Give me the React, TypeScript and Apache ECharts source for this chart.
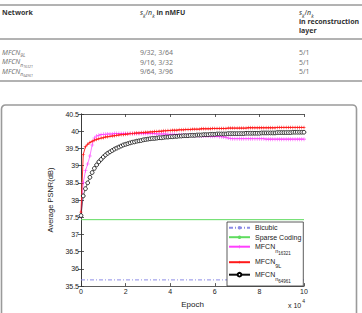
import React, { useEffect, useRef } from 'react';
import * as echarts from 'echarts';

// ---------- data ----------
const epochStep = 0.1; // x 10^4 epochs between samples
const red9L = [
  37.65,
  39.32, 39.55, 39.62, 39.67, 39.71, 39.74, 39.76, 39.78, 39.80, 39.81,
  39.83, 39.84, 39.85, 39.86, 39.87, 39.88, 39.89, 39.90, 39.90, 39.91,
  39.92, 39.93, 39.93, 39.94, 39.95, 39.95, 39.96, 39.96, 39.97, 39.97,
  39.98, 39.98, 39.99, 39.99, 40.00, 40.00, 40.01, 40.01, 40.02, 40.02,
  40.03, 40.03, 40.03, 40.04, 40.04, 40.04, 40.05, 40.05, 40.05, 40.06,
  40.06, 40.06, 40.06, 40.07, 40.07, 40.07, 40.07, 40.07, 40.08, 40.08,
  40.08, 40.08, 40.08, 40.08, 40.08, 40.09, 40.09, 40.09, 40.09, 40.09,
  40.09, 40.09, 40.09, 40.09, 40.10, 40.10, 40.10, 40.10, 40.10, 40.10,
  40.10, 40.10, 40.10, 40.10, 40.10, 40.10, 40.10, 40.11, 40.11, 40.11,
  40.11, 40.11, 40.11, 40.11, 40.11, 40.11, 40.11, 40.11, 40.11, 40.11,
];
const magentaN16321 = [
  37.52,
  38.50, 38.85, 39.05, 39.28, 39.60, 39.80, 39.86, 39.88, 39.90, 39.91,
  39.91, 39.92, 39.92, 39.92, 39.93, 39.93, 39.93, 39.93, 39.93, 39.93,
  39.93, 39.93, 39.93, 39.93, 39.93, 39.93, 39.93, 39.93, 39.93, 39.93,
  39.93, 39.93, 39.93, 39.92, 39.92, 39.92, 39.92, 39.92, 39.91, 39.91,
  39.91, 39.91, 39.90, 39.90, 39.90, 39.89, 39.89, 39.89, 39.88, 39.88,
  39.87, 39.87, 39.87, 39.86, 39.86, 39.86, 39.86, 39.85, 39.85, 39.85,
  39.85, 39.84, 39.84, 39.83, 39.82, 39.80, 39.79, 39.78, 39.78, 39.78,
  39.78, 39.78, 39.78, 39.78, 39.78, 39.78, 39.78, 39.78, 39.78, 39.78,
  39.78, 39.78, 39.77, 39.77, 39.77, 39.77, 39.77, 39.77, 39.77, 39.77,
  39.77, 39.77, 39.77, 39.77, 39.77, 39.77, 39.77, 39.77, 39.77, 39.77,
];
const blackN64961 = [
  37.55,
  38.12, 38.33, 38.50, 38.66, 38.80, 38.92, 39.02, 39.11, 39.18, 39.25,
  39.31, 39.36, 39.40, 39.44, 39.48, 39.51, 39.54, 39.57, 39.60, 39.62,
  39.64, 39.66, 39.68, 39.69, 39.71, 39.72, 39.73, 39.75, 39.76, 39.77,
  39.78, 39.79, 39.79, 39.80, 39.81, 39.81, 39.82, 39.83, 39.83, 39.84,
  39.84, 39.85, 39.85, 39.86, 39.86, 39.87, 39.87, 39.87, 39.88, 39.88,
  39.88, 39.89, 39.89, 39.89, 39.90, 39.90, 39.90, 39.91, 39.91, 39.91,
  39.92, 39.92, 39.92, 39.92, 39.92, 39.93, 39.93, 39.93, 39.93, 39.93,
  39.93, 39.93, 39.93, 39.94, 39.94, 39.94, 39.94, 39.94, 39.94, 39.94,
  39.95, 39.95, 39.95, 39.95, 39.95, 39.95, 39.95, 39.96, 39.96, 39.96,
  39.96, 39.96, 39.96, 39.96, 39.97, 39.97, 39.97, 39.97, 39.97, 39.97,
];
const bicubicPSNR = 35.68;
const sparseCodingPSNR = 37.43;
const xRange = [0, 10];
const yRange = [35.5, 40.5];

// table
const tableNetworks = [
  { sub: '9L', subsub: '' },
  { sub: 'n', subsub: '16321' },
  { sub: 'n', subsub: '64961' },
];
const tableNmfu = ['9/32, 3/64', '9/16, 3/32', '9/64, 3/96'];
const tableRecon = ['5/1', '5/1', '5/1'];

const seriesNames = ['Bicubic', 'Sparse Coding', 'MFCN n16321', 'MFCN 9L', 'MFCN n64961'];
const legendLabels: Record<string, string> = {
  'Bicubic': 'Bicubic',
  'Sparse Coding': 'Sparse Coding',
  'MFCN n16321': '{m|MFCN}{s|n}{ss|16321}',
  'MFCN 9L': '{m9|MFCN}{s9|9L}',
  'MFCN n64961': '{m|MFCN}{s|n}{ss|64961}',
};

const CF = 'Liberation Sans';
const TF = 'Noto Sans';

const epochs = red9L.map((_, i) => Math.round(i * epochStep * 10) / 10);
const pairs = (vals: number[]) => vals.map((v, i) => [epochs[i], v]);

const plusPath = 'path://M4.3,0H5.7V4.3H10V5.7H5.7V10H4.3V5.7H0V4.3H4.3Z';
const starPath = 'path://M5,0L6,4L10,5L6,6L5,10L4,6L0,5L4,4Z';

function buildGraphic() {
  const g: any[] = [];
  // table rules
  g.push({ type: 'line', shape: { x1: 0, y1: 5, x2: 362, y2: 5 }, style: { stroke: '#666', lineWidth: 1 } });
  g.push({ type: 'line', shape: { x1: 0, y1: 39, x2: 362, y2: 39 }, style: { stroke: '#666', lineWidth: 1 } });
  g.push({ type: 'line', shape: { x1: 0, y1: 81, x2: 362, y2: 81 }, style: { stroke: '#999', lineWidth: 1.6 } });

  const hdrRich = {
    i: { fontFamily: TF, fontSize: 7, fontStyle: 'italic', fill: '#333', lineHeight: 8, padding: [0, 0, 2, 0], verticalAlign: 'top' },
    r: { fontFamily: TF, fontSize: 7, fill: '#333', lineHeight: 8, padding: [0, 0, 2, 0], verticalAlign: 'top' },
    k: { fontFamily: TF, fontSize: 5, fontStyle: 'italic', fill: '#333', lineHeight: 5, padding: [4, 0, 0, 0], verticalAlign: 'top' },
    b: { fontFamily: TF, fontSize: 7, fontWeight: 'bold', fill: '#333', lineHeight: 8, padding: [0, 0, 2, 0], verticalAlign: 'top' },
  };
  g.push({ type: 'text', x: 2, y: 9, style: { text: 'Network', fontFamily: TF, fontSize: 7, fontWeight: 'bold', fill: '#333', verticalAlign: 'top' } });
  g.push({ type: 'text', x: 140, y: 9, style: { text: '{i|s}{k|k}{r|/}{i|n}{k|k}{b| in nMFU}', rich: hdrRich, verticalAlign: 'top' } });
  g.push({ type: 'text', x: 299, y: 9, style: { text: '{i|s}{k|k}{r|/}{i|n}{k|k}', rich: hdrRich, verticalAlign: 'top' } });
  g.push({ type: 'text', x: 299, y: 18, style: { text: 'in reconstruction', fontFamily: TF, fontSize: 7, fontWeight: 'bold', fill: '#333', verticalAlign: 'top' } });
  g.push({ type: 'text', x: 299, y: 27, style: { text: 'layer', fontFamily: TF, fontSize: 7, fontWeight: 'bold', fill: '#333', verticalAlign: 'top' } });

  const rowRich = {
    m: { fontFamily: TF, fontSize: 7, fontStyle: 'italic', fill: '#777', lineHeight: 8, padding: [0, 0, 4, 0], verticalAlign: 'top' },
    s: { fontFamily: TF, fontSize: 5, fontStyle: 'italic', fill: '#777', lineHeight: 5, padding: [4, 0, 0, 0], verticalAlign: 'top' },
    ss: { fontFamily: TF, fontSize: 3.5, fontStyle: 'italic', fill: '#777', lineHeight: 4, padding: [6, 0, 0, 0], verticalAlign: 'top' },
  };
  const rowY = [52.5, 62, 71.5];
  tableNetworks.forEach((n, i) => {
    const txt = '{m|MFCN}{s|' + n.sub + '}' + (n.subsub ? '{ss|' + n.subsub + '}' : '');
    g.push({ type: 'text', x: 2, y: rowY[i] - 4, style: { text: txt, rich: rowRich, verticalAlign: 'top' } });
    g.push({ type: 'text', x: 140, y: rowY[i], style: { text: tableNmfu[i], fontFamily: TF, fontSize: 7, fill: '#777', verticalAlign: 'middle' } });
    g.push({ type: 'text', x: 299, y: rowY[i], style: { text: tableRecon[i], fontFamily: TF, fontSize: 7, fill: '#777', verticalAlign: 'middle' } });
  });

  // figure frame
  g.push({ type: 'rect', shape: { x: 1.5, y: 105, width: 355, height: 240, r: 4 }, style: { stroke: '#9a9a9a', lineWidth: 1.6, fill: 'none' }, z: -1 });

  // x 10^4
  g.push({
    type: 'text', x: 288, y: 298,
    style: {
      text: '{a|x 10}{b|4}', verticalAlign: 'top',
      rich: {
        a: { fontFamily: CF, fontSize: 7, fill: '#222', lineHeight: 8, padding: [4, 0, 0, 0], verticalAlign: 'top' },
        b: { fontFamily: CF, fontSize: 5, fill: '#222', lineHeight: 5, padding: [0, 0, 0, 1], verticalAlign: 'top' },
      },
    },
  });
  return g;
}

export default function App() {
  const ref = useRef<HTMLDivElement>(null);
  useEffect(() => {
    const chart = echarts.init(ref.current!, null, { renderer: 'svg', width: 362, height: 313 });
    const axisLine = { show: true, lineStyle: { color: '#333', width: 0.8 } };
    const axisTick = { show: true, inside: true, length: 3, lineStyle: { color: '#333', width: 0.8 } };
    const option: any = {
      animation: false,
      backgroundColor: '#fff',
      grid: { left: 81, right: 58, top: 114, bottom: 24.5 },
      xAxis: [
        {
          type: 'value', min: xRange[0], max: xRange[1], interval: 2,
          axisLine, axisTick, splitLine: { show: false },
          axisLabel: { fontFamily: CF, fontSize: 7, color: '#222', margin: 2 },
          name: 'Epoch', nameLocation: 'middle', nameGap: 10,
          nameTextStyle: { fontFamily: CF, fontSize: 8, color: '#222' },
        },
        {
          type: 'value', position: 'top', min: xRange[0], max: xRange[1], interval: 2,
          axisLine, axisTick, axisLabel: { show: false }, splitLine: { show: false },
        },
      ],
      yAxis: [
        {
          type: 'value', min: yRange[0], max: yRange[1], interval: 0.5,
          axisLine, axisTick, splitLine: { show: false },
          axisLabel: { fontFamily: CF, fontSize: 7, color: '#222', margin: 2 },
          name: 'Average PSNR(dB)', nameLocation: 'middle', nameGap: 18,
          nameTextStyle: { fontFamily: CF, fontSize: 7.5, color: '#222' },
        },
        {
          type: 'value', position: 'right', min: yRange[0], max: yRange[1], interval: 0.5,
          axisLine, axisTick, axisLabel: { show: false }, splitLine: { show: false },
        },
      ],
      legend: {
        orient: 'vertical', left: 227, top: 222,
        padding: [1.7, 2, 1.3, 1], itemGap: 1.5, itemWidth: 21, itemHeight: 4.5,
        backgroundColor: '#fff', borderColor: '#333', borderWidth: 0.8, borderRadius: 0,
        data: seriesNames,
        formatter: (name: string) => legendLabels[name],
        textStyle: {
          fontFamily: CF, fontSize: 7, color: '#222', lineHeight: 8,
          rich: {
            m: { fontFamily: CF, fontSize: 7, color: '#222', lineHeight: 8, padding: [0, 0, 6, 0], verticalAlign: 'top' },
            s: { fontFamily: CF, fontSize: 5.5, color: '#222', lineHeight: 6, padding: [5, 0, 3, 0], verticalAlign: 'top' },
            ss: { fontFamily: CF, fontSize: 4.5, color: '#222', lineHeight: 5, padding: [8, 0, 1, 0], verticalAlign: 'top' },
            m9: { fontFamily: CF, fontSize: 7, color: '#222', lineHeight: 8, padding: [0, 0, 3, 0], verticalAlign: 'top' },
            s9: { fontFamily: CF, fontSize: 5.5, color: '#222', lineHeight: 6, padding: [5, 0, 0, 0], verticalAlign: 'top' },
          },
        },
      },
      series: [
        {
          name: seriesNames[0], type: 'line', symbol: 'none',
          data: [[xRange[0], bicubicPSNR], [xRange[1], bicubicPSNR]],
          lineStyle: { color: '#8c8ce6', width: 1, type: [4, 2, 1, 2] },
          itemStyle: { color: '#8c8ce6' },
        },
        {
          name: seriesNames[1], type: 'line', symbol: 'none',
          data: [[xRange[0], sparseCodingPSNR], [xRange[1], sparseCodingPSNR]],
          lineStyle: { color: '#5fdc5f', width: 1 },
          itemStyle: { color: '#5fdc5f' },
        },
        {
          name: seriesNames[2], type: 'line', symbol: plusPath, symbolSize: 4,
          data: pairs(magentaN16321),
          lineStyle: { color: '#ff40ff', width: 0.7 },
          itemStyle: { color: '#ff40ff' },
        },
        {
          name: seriesNames[3], type: 'line', symbol: starPath, symbolSize: 4.5,
          data: pairs(red9L),
          lineStyle: { color: '#ff1a1a', width: 0.9 },
          itemStyle: { color: '#ff1a1a' },
        },
        {
          name: seriesNames[4], type: 'line', symbol: 'circle', symbolSize: 3.8,
          data: pairs(blackN64961),
          lineStyle: { color: '#111', width: 0.6 },
          itemStyle: { color: '#fff', borderColor: '#000', borderWidth: 0.8 },
        },
      ],
      graphic: buildGraphic(),
    };
    chart.setOption(option);
    return () => chart.dispose();
  }, []);
  return <div ref={ref} style={{ position: 'absolute', left: 0, top: 0, width: 362, height: 313, background: '#fff' }} />;
}
